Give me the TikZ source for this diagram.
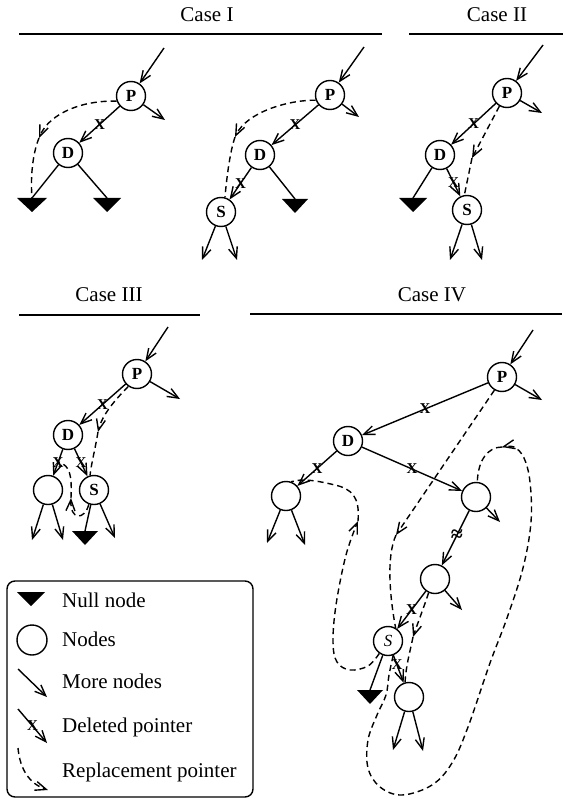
\documentclass[tikz,border=0pt]{standalone}
\usepackage{fontspec}
\setmainfont{Liberation Serif}
\usetikzlibrary{arrows.meta}
\newcommand\NullTri[4]{%
  \coordinate (#1) at (#2,#3);
  \fill (#1) ++(-#4,0) -- ++(2*#4,0) -- ++(-#4,14) -- cycle;}
\begin{document}
\begin{tikzpicture}[x=1pt,y=-1pt,
  tnode/.style={circle,draw,line width=1.4pt,minimum size=29pt,inner sep=0pt,font=\fontsize{17}{17}\selectfont\bfseries},
  ptr/.style={line width=1.4pt,-{Straight Barb[length=11pt,width=9pt,line width=1.4pt]}},
  link/.style={line width=1.4pt},
  rep/.style={line width=1.4pt,dash pattern=on 6pt off 4pt},
  repa/.style={rep,-{Straight Barb[length=11pt,width=9pt,line width=1.4pt]}},
  xmark/.style={font=\fontsize{15}{15}\selectfont\bfseries,inner sep=0pt},
  ttl/.style={font=\fontsize{21}{24}\selectfont},
  leg/.style={font=\fontsize{21}{24}\selectfont,anchor=west,inner sep=0pt},
  hrule/.style={line width=1.6pt}
]
\useasboundingbox (0,0) rectangle (565,799);

%% ---------------- Case I ----------------
\node[ttl] (t1) at (207,15) {Case I};
\draw[hrule] (19,34) -- (382,34);
% left tree
\node[tnode] (P1) at (131,96) {P};
\node[tnode] (D1) at (68,153) {D};
\coordinate (in1) at (164,48);
\coordinate (o1) at (165,120);
\draw[ptr] (in1) -- (P1);
\draw[ptr] (P1) -- (o1);
\draw[ptr] (P1) -- node[xmark]{X} (D1);
\NullTri{n1a}{32}{198}{15}
\NullTri{n1b}{107}{198}{14}
\draw[link] (D1) -- (n1a);
\draw[link] (D1) -- (n1b);
\coordinate (r1) at (39,138);
\draw[repa] (P1.200) .. controls (85,100) and (50,112) .. (r1);
\draw[rep] (r1) .. controls (34,150) and (30,172) .. (n1a);
% right tree
\node[tnode] (P2) at (330,95) {P};
\node[tnode] (D2) at (260,155) {D};
\node[tnode] (S2) at (221,212) {S};
\coordinate (in2) at (364,47);
\coordinate (o2) at (359,117);
\draw[ptr] (in2) -- (P2);
\draw[ptr] (P2) -- (o2);
\draw[ptr] (P2) -- node[xmark]{X} (D2);
\draw[ptr] (D2) -- node[xmark]{X} (S2);
\NullTri{n2}{295}{199}{13}
\draw[link] (D2) -- (n2);
\coordinate (s2a) at (202,260);
\coordinate (s2b) at (237,260);
\draw[ptr] (S2) -- (s2a);
\draw[ptr] (S2) -- (s2b);
\coordinate (r2) at (235,137);
\draw[repa] (P2.200) .. controls (288,100) and (247,112) .. (r2);
\draw[rep] (r2) .. controls (230,152) and (227,175) .. (S2.75);

%% ---------------- Case II ----------------
\node[ttl] (t2) at (497,15) {Case II};
\draw[hrule] (409,34) -- (563,34);
\node[tnode] (P3) at (507,93) {P};
\node[tnode] (D3) at (440,155) {D};
\node[tnode] (S3) at (467,210) {S};
\coordinate (in3) at (543,45);
\coordinate (o3) at (542,113);
\draw[ptr] (in3) -- (P3);
\draw[ptr] (P3) -- (o3);
\draw[ptr] (P3) -- node[xmark]{X} (D3);
\draw[ptr] (D3) -- node[xmark]{X} (S3);
\NullTri{n3}{413}{198}{14}
\draw[link] (D3) -- (n3);
\coordinate (s3a) at (450,260);
\coordinate (s3b) at (482,260);
\draw[ptr] (S3) -- (s3a);
\draw[ptr] (S3) -- (s3b);
\coordinate (r3) at (472,158);
\draw[repa] (P3.240) -- (r3);
\draw[rep] (r3) -- (S3.100);

%% ---------------- Case III ----------------
\node[ttl] (t3) at (109,295) {Case III};
\draw[hrule] (19,315) -- (200,315);
\node[tnode] (P4) at (137,374) {P};
\node[tnode] (D4) at (68,435) {D};
\node[tnode] (L4) at (48,490) {};
\node[tnode] (S4) at (94,490) {S};
\coordinate (in4) at (168,327);
\coordinate (o4) at (180,399);
\draw[ptr] (in4) -- (P4);
\draw[ptr] (P4) -- (o4);
\draw[ptr] (P4) -- node[xmark]{X} (D4);
\draw[ptr] (D4) -- node[xmark]{X} (L4);
\draw[ptr] (D4) -- node[xmark]{X} (S4);
\coordinate (l4a) at (32,540);
\coordinate (l4b) at (63,540);
\draw[ptr] (L4) -- (l4a);
\draw[ptr] (L4) -- (l4b);
\NullTri{n4}{85}{531}{13}
\draw[link] (S4) -- (n4);
\coordinate (o4s) at (115,538);
\draw[ptr] (S4) -- (o4s);
\coordinate (r4) at (98,432);
\draw[repa] (P4.235) .. controls (115,400) and (102,415) .. (r4);
\draw[rep] (r4) .. controls (95,450) and (91,465) .. (S4.105);
\coordinate (r5) at (71,498);
\coordinate (e5) at (59,462);
\draw[repa] (S4.250) .. controls (85,520) and (70,521) .. (r5);
\draw[rep] (r5) .. controls (72,475) and (70,466) .. (e5);

%% ---------------- Case IV ----------------
\node[ttl] (t4) at (432,295) {Case IV};
\draw[hrule] (250,314) -- (562,314);
\node[tnode] (P5) at (502,377) {P};
\node[tnode] (D5) at (348,441) {D};
\node[tnode] (L5) at (286,496) {};
\node[tnode] (R5) at (476,497) {};
\node[tnode] (N2) at (435,579) {};
\node[tnode,font=\fontsize{17}{17}\selectfont\itshape] (S5) at (388,641) {S};
\node[tnode] (N3) at (409,697) {};
\coordinate (in5) at (533,330);
\coordinate (o5) at (542,400);
\draw[ptr] (in5) -- (P5);
\draw[ptr] (P5) -- (o5);
\draw[ptr] (P5) -- node[xmark]{X} (D5);
\draw[ptr] (D5) -- node[xmark]{X} (L5);
\draw[ptr] (D5) -- node[xmark]{X} (R5);
\coordinate (l5a) at (267,543);
\coordinate (l5b) at (305,545);
\draw[ptr] (L5) -- (l5a);
\draw[ptr] (L5) -- (l5b);
\coordinate (o5r) at (500,522);
\draw[ptr] (R5) -- (o5r);
\draw[ptr] (R5) -- node[pos=0.45,xmark,font=\fontsize{22}{22}\selectfont\bfseries]{≈} (N2);
\coordinate (o5n) at (462,610);
\draw[ptr] (N2) -- (o5n);
\draw[ptr] (N2) -- node[xmark]{X} (S5);
\NullTri{n5}{370}{690}{13}
\draw[link] (S5) -- (n5);
\draw[ptr] (S5) -- node[pos=0.35,xmark]{X} (N3);
\coordinate (n3a) at (393,750);
\coordinate (n3b) at (423,751);
\draw[ptr] (N3) -- (n3a);
\draw[ptr] (N3) -- (n3b);
% P -> S replacement
\coordinate (r6) at (396,535);
\draw[repa] (P5.240) -- (r6);
\draw[rep] (r6) .. controls (386,557) and (390,598) .. (S5.60);
% S left -> L replacement
\coordinate (r7) at (358,521);
\draw[repa] plot[smooth,tension=0.6] coordinates {(S5.235) (368,666) (350,670) (337,662) (333,642) (336,605) (346,555) (r7)};
\draw[rep] (r7) .. controls (360,497) and (352,489) .. (335,485) .. controls (318,481) and (303,478) .. (L5.70);
% S right -> R replacement (loop)
\coordinate (r8) at (502,447);
\draw[repa] plot[smooth,tension=0.6] coordinates {(S5.290) (389,675) (386,695) (377,715) (368,740) (368,768) (380,787) (402,795) (432,785) (452,763) (468,727) (490,663) (507,618) (523,568) (531,522) (530,482) (524,458) (514,447) (r8)};
\draw[rep] (r8) .. controls (488,447) and (478,460) .. (R5.85);
% N2 left -> N3 replacement
\coordinate (r9) at (413,637);
\draw[repa] (N2.245) .. controls (424,607) and (417,625) .. (r9);
\draw[rep] (r9) .. controls (410,652) and (406,665) .. (N3.105);

%% ---------------- Legend ----------------
\draw[line width=1.4pt,rounded corners=8pt] (7,581) rectangle (253,797);
\NullTri{lg1}{31}{592}{14}
\node[leg] (lt1) at (62,600) {Null node};
\node[tnode,minimum size=30pt] (lg2) at (32,640) {};
\node[leg] (lt2) at (62,639) {Nodes};
\coordinate (lg3a) at (18,669);
\coordinate (lg3b) at (47,697);
\draw[ptr] (lg3a) -- (lg3b);
\node[leg] (lt3) at (62,681) {More nodes};
\coordinate (lg4a) at (18,709);
\coordinate (lg4b) at (47,743);
\draw[ptr] (lg4a) -- node[xmark]{X} (lg4b);
\node[leg] (lt4) at (62,727) {Deleted pointer};
\coordinate (lg5a) at (18,748);
\coordinate (lg5b) at (48,790);
\draw[repa] (lg5a) .. controls (20,770) and (30,784) .. (lg5b);
\node[leg] (lt5) at (62,772) {Replacement pointer};
\end{tikzpicture}
\end{document}
